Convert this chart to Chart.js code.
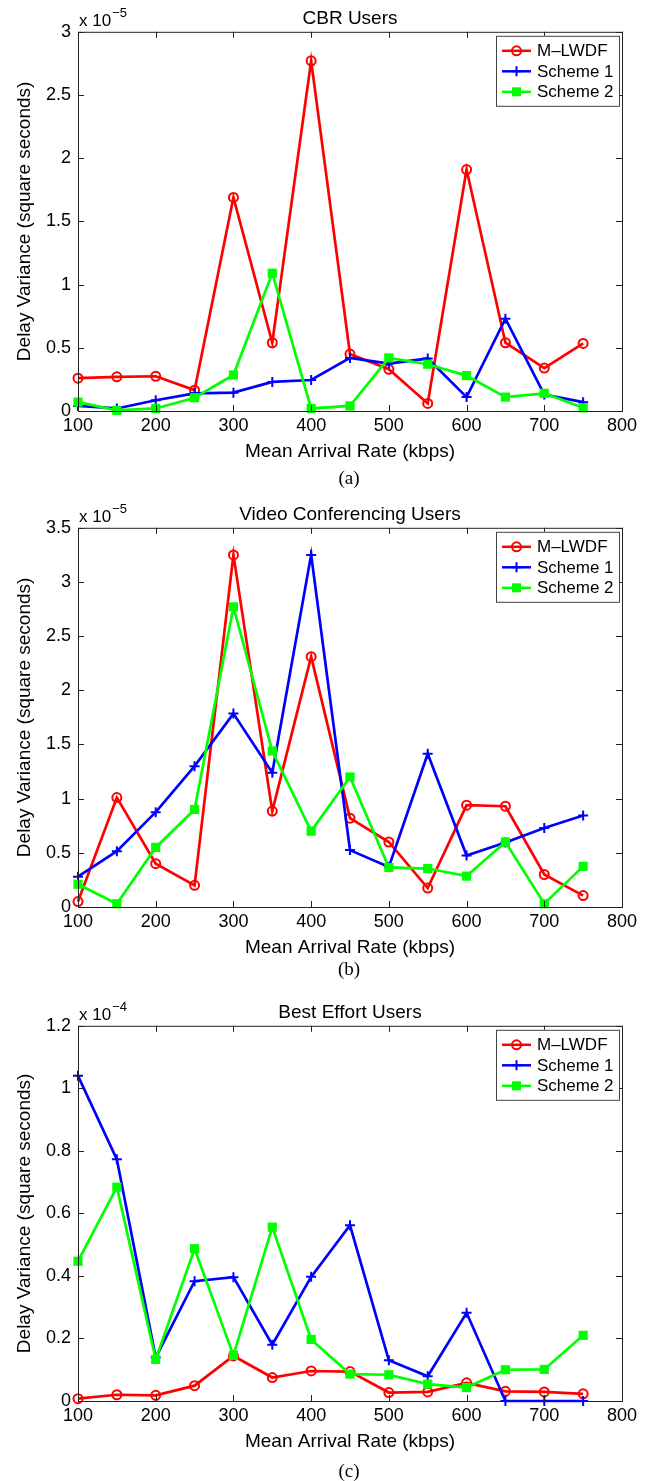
<!DOCTYPE html>
<html>
<head>
<meta charset="utf-8">
<title>Delay Variance</title>
<script src="https://cdn.jsdelivr.net/npm/chart.js@4.4.1/dist/chart.umd.min.js"></script>
<style>
    body { margin: 0; background: #fff; }
    #page { position: relative; width: 654px; height: 1481px; overflow: hidden; }
    .panel { position: absolute; left: 0; width: 654px; }
    .caption {
        position: absolute; left: 0; width: 698px; text-align: center;
        font-family: "Liberation Serif", "DejaVu Serif", serif; font-size: 19px; color: #000;
    }
</style>
</head>
<body>
<div id="page">
    <div class="panel" style="top:0;height:470px"><canvas id="chartA"></canvas></div>
    <div class="caption" style="top:467px">(a)</div>
    <div class="panel" style="top:496px;height:470px"><canvas id="chartB"></canvas></div>
    <div class="caption" style="top:958px">(b)</div>
    <div class="panel" style="top:994px;height:466px"><canvas id="chartC"></canvas></div>
    <div class="caption" style="top:1460px">(c)</div>
</div>
<script>
// x values (kbps)
const arrivalRates = [100, 150, 200, 250, 300, 350, 400, 450, 500, 550, 600, 650, 700, 750];
const xTicks = [100, 200, 300, 400, 500, 600, 700, 800];
const seriesNames = ["M\u2013LWDF", "Scheme 1", "Scheme 2"];

// (a) CBR users, x 10^-5
const cbrMlwdf   = [0.26, 0.27, 0.275, 0.165, 1.69, 0.54, 2.77, 0.45, 0.33, 0.06, 1.91, 0.54, 0.34, 0.535];
const cbrScheme1 = [0.04, 0.02, 0.085, 0.14, 0.145, 0.23, 0.245, 0.42, 0.375, 0.415, 0.11, 0.73, 0.13, 0.07];
const cbrScheme2 = [0.07, 0.005, 0.02, 0.105, 0.285, 1.09, 0.02, 0.04, 0.42, 0.37, 0.28, 0.11, 0.14, 0.025];

// (b) video conferencing users, x 10^-5
const videoMlwdf   = [0.05, 1.01, 0.40, 0.20, 3.25, 0.885, 2.31, 0.82, 0.60, 0.175, 0.94, 0.93, 0.30, 0.105];
const videoScheme1 = [0.28, 0.515, 0.875, 1.30, 1.785, 1.24, 3.25, 0.525, 0.37, 1.415, 0.475, 0.595, 0.73, 0.845];
const videoScheme2 = [0.21, 0.03, 0.55, 0.90, 2.77, 1.44, 0.70, 1.20, 0.365, 0.355, 0.285, 0.60, 0.03, 0.375];

// (c) best effort users, x 10^-4
const bestMlwdf   = [0.0075, 0.02, 0.018, 0.049, 0.144, 0.075, 0.096, 0.094, 0.027, 0.029, 0.058, 0.031, 0.029, 0.023];
const bestScheme1 = [1.04, 0.773, 0.139, 0.383, 0.396, 0.18, 0.397, 0.562, 0.13, 0.079, 0.282, 0, 0, 0];
const bestScheme2 = [0.447, 0.684, 0.133, 0.487, 0.146, 0.556, 0.197, 0.086, 0.084, 0.054, 0.043, 0.10, 0.101, 0.21];

const FONT = "'Liberation Sans', Arial, Helvetica, sans-serif";

function toPoints(values) {
    return values.map((v, i) => ({ x: arrivalRates[i], y: v }));
}

function drawMarker(ctx, style, color, x, y) {
    ctx.strokeStyle = color;
    ctx.fillStyle = color;
    ctx.lineWidth = 2;
    ctx.beginPath();
    if (style === "circle") {
        ctx.arc(x, y, 4.5, 0, Math.PI * 2);
        ctx.stroke();
    } else if (style === "cross") {
        ctx.moveTo(x - 5, y); ctx.lineTo(x + 5, y);
        ctx.moveTo(x, y - 5); ctx.lineTo(x, y + 5);
        ctx.stroke();
    } else {
        ctx.rect(x - 4.5, y - 4.5, 9, 9);
        ctx.fill();
    }
}

// box, inward ticks, exponent and legend like MATLAB
const matlabAxes = {
    id: "matlabAxes",
    afterDraw(chart, args, opts) {
        const { ctx, chartArea: a, scales: { x, y } } = chart;
        ctx.save();
        ctx.strokeStyle = "#222";
        ctx.lineWidth = 1;
        ctx.strokeRect(a.left + 0.5, a.top + 0.5, a.width, a.height);
        ctx.beginPath();
        x.ticks.forEach(t => {
            const px = Math.round(x.getPixelForValue(t.value)) + 0.5;
            ctx.moveTo(px, a.bottom); ctx.lineTo(px, a.bottom - 6);
            ctx.moveTo(px, a.top); ctx.lineTo(px, a.top + 6);
        });
        y.ticks.forEach(t => {
            const py = Math.round(y.getPixelForValue(t.value)) + 0.5;
            ctx.moveTo(a.left, py); ctx.lineTo(a.left + 6, py);
            ctx.moveTo(a.right, py); ctx.lineTo(a.right - 6, py);
        });
        ctx.stroke();

        // exponent label
        ctx.fillStyle = "#000";
        ctx.textBaseline = "alphabetic";
        ctx.textAlign = "left";
        ctx.font = "17px " + FONT;
        ctx.fillText("x 10", a.left + 1, a.top - 6);
        const w = ctx.measureText("x 10").width;
        ctx.font = "13px " + FONT;
        ctx.fillText(opts.exponent, a.left + 2 + w, a.top - 15);

        // legend
        const bx = a.right - 126, by = a.top + 4, bw = 123, bh = 70;
        ctx.fillStyle = "#fff";
        ctx.fillRect(bx, by, bw, bh);
        ctx.strokeStyle = "#444";
        ctx.lineWidth = 1;
        ctx.strokeRect(bx + 0.5, by + 0.5, bw, bh);
        chart.data.datasets.forEach((ds, i) => {
            const ry = by + 15 + i * 20.5;
            ctx.strokeStyle = ds.borderColor;
            ctx.lineWidth = 2.5;
            ctx.beginPath();
            ctx.moveTo(bx + 6, ry); ctx.lineTo(bx + 35, ry);
            ctx.stroke();
            drawMarker(ctx, ds.pointStyle, ds.borderColor, bx + 20.5, ry);
            ctx.fillStyle = "#000";
            ctx.font = "17px " + FONT;
            ctx.textBaseline = "middle";
            ctx.fillText(ds.label, bx + 41, ry + 1);
        });
        ctx.restore();
    }
};

function makeDatasets(mlwdf, scheme1, scheme2) {
    return [
        {
            label: seriesNames[0], data: toPoints(mlwdf), order: 3,
            borderColor: "#ff0000", backgroundColor: "#ff0000",
            pointStyle: "circle", pointRadius: 4.5, pointBorderWidth: 2,
            pointBackgroundColor: "rgba(0,0,0,0)", borderWidth: 2.7, clip: false
        },
        {
            label: seriesNames[1], data: toPoints(scheme1), order: 2,
            borderColor: "#0000ff", backgroundColor: "#0000ff",
            pointStyle: "cross", pointRadius: 5, pointBorderWidth: 2,
            borderWidth: 2.7, clip: false
        },
        {
            label: seriesNames[2], data: toPoints(scheme2), order: 1,
            borderColor: "#00ff00", backgroundColor: "#00ff00",
            pointStyle: "rect", pointRadius: 6.5, pointBorderWidth: 0,
            borderWidth: 2.7, clip: false
        }
    ];
}

function makeChart(id, title, exponent, yMax, yStep, datasets) {
    const ctx = document.getElementById(id).getContext("2d");
    return new Chart(ctx, {
        type: "line",
        data: { datasets: datasets },
        options: {
            responsive: true,
            maintainAspectRatio: false,
            animation: false,
            events: [],
            layout: { padding: { left: 0, right: 32, top: 0, bottom: 0 } },
            plugins: {
                legend: { display: false },
                tooltip: { enabled: false },
                title: {
                    display: true, text: title, fullSize: false, color: "#000",
                    font: { family: FONT, size: 19, weight: "normal" },
                    padding: { top: 7, bottom: 2 }
                },
                matlabAxes: { exponent: exponent }
            },
            scales: {
                x: {
                    type: "linear", min: 100, max: 800,
                    afterFit: s => { s.height = 59; },
                    afterBuildTicks: s => { s.ticks = xTicks.map(v => ({ value: v })); },
                    grid: { display: false, drawTicks: false },
                    border: { display: false },
                    ticks: { color: "#000", padding: 4, font: { family: FONT, size: 18 } },
                    title: {
                        display: true, text: "Mean Arrival Rate (kbps)", color: "#000",
                        font: { family: FONT, size: 19 }, padding: { top: 0, bottom: 7 }
                    }
                },
                y: {
                    type: "linear", min: 0, max: yMax,
                    afterFit: s => { s.width = 78; },
                    grid: { display: false, drawTicks: false },
                    border: { display: false },
                    ticks: {
                        color: "#000", padding: 7, stepSize: yStep,
                        font: { family: FONT, size: 18 },
                        callback: v => String(+v.toFixed(2))
                    },
                    title: {
                        display: true, text: "Delay Variance (square seconds)", color: "#000",
                        font: { family: FONT, size: 19 }, padding: { top: 13, bottom: 0 }
                    }
                }
            }
        },
        plugins: [matlabAxes]
    });
}

makeChart("chartA", "CBR Users", "\u22125", 3, 0.5, makeDatasets(cbrMlwdf, cbrScheme1, cbrScheme2));
makeChart("chartB", "Video Conferencing Users", "\u22125", 3.5, 0.5, makeDatasets(videoMlwdf, videoScheme1, videoScheme2));
makeChart("chartC", "Best Effort Users", "\u22124", 1.2, 0.2, makeDatasets(bestMlwdf, bestScheme1, bestScheme2));
</script>
</body>
</html>
